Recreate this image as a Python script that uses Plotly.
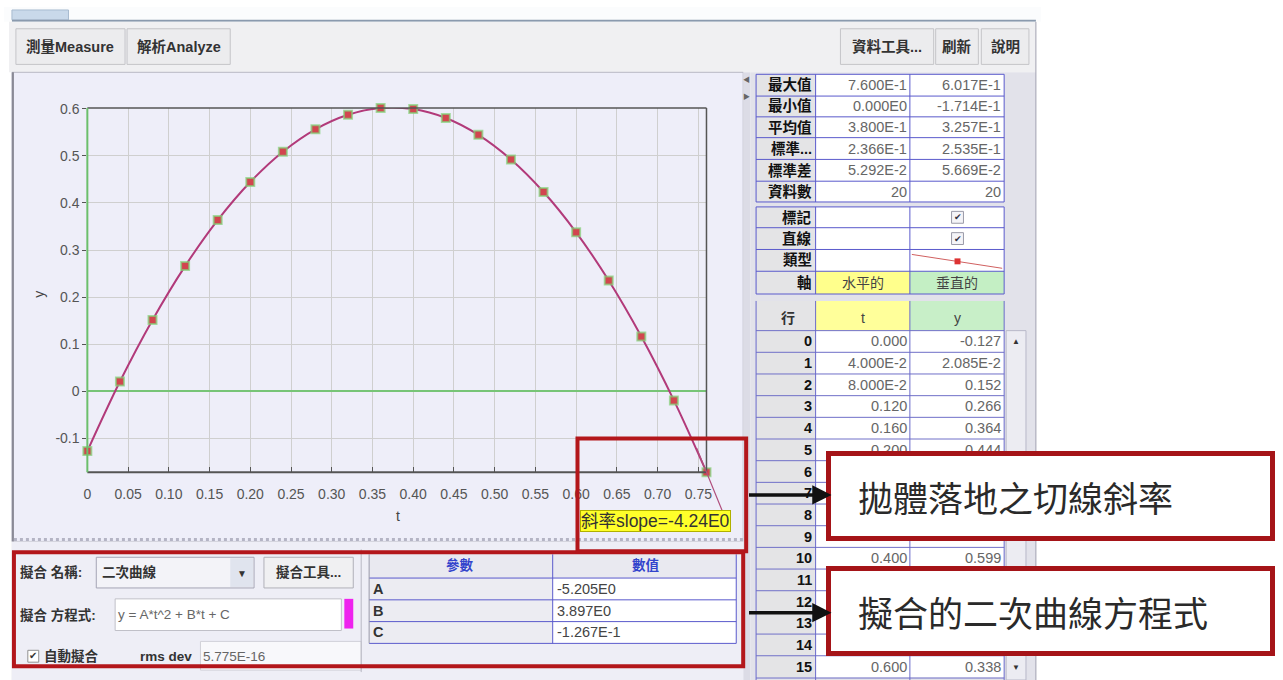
import plotly.graph_objects as go

W, H = 1283, 680

# ---------------- data ----------------
t_values = [0.00, 0.04, 0.08, 0.12, 0.16, 0.20, 0.24, 0.28, 0.32, 0.36,
            0.40, 0.44, 0.48, 0.52, 0.56, 0.60, 0.64, 0.68, 0.72, 0.76]
y_values = [-0.1267, 0.0209, 0.1517, 0.2660, 0.3636, 0.4445, 0.5088, 0.5564, 0.5873, 0.6017,
            0.5993, 0.5803, 0.5446, 0.4923, 0.4233, 0.3377, 0.2354, 0.1165, -0.0191, -0.1714]

x_tick_vals = [0, 0.05, 0.10, 0.15, 0.20, 0.25, 0.30, 0.35, 0.40, 0.45, 0.50, 0.55, 0.60, 0.65, 0.70, 0.75]
x_tick_text = ["0", "0.05", "0.10", "0.15", "0.20", "0.25", "0.30", "0.35", "0.40",
               "0.45", "0.50", "0.55", "0.60", "0.65", "0.70", "0.75"]
y_tick_vals = [-0.1, 0, 0.1, 0.2, 0.3, 0.4, 0.5, 0.6]
y_tick_text = ["-0.1", "0", "0.1", "0.2", "0.3", "0.4", "0.5", "0.6"]

tangent_slope = -4.24
slope_label = "斜率slope=-4.24E0"

stat_labels = ["最大值", "最小值", "平均值", "標準...", "標準差", "資料數"]
stat_t = ["7.600E-1", "0.000E0", "3.800E-1", "2.366E-1", "5.292E-2", "20"]
stat_y = ["6.017E-1", "-1.714E-1", "3.257E-1", "2.535E-1", "5.669E-2", "20"]
prop_labels = ["標記", "直線", "類型", "軸"]
axis_names = ["水平的", "垂直的"]

row_index = [str(i) for i in range(16)]
t_column = ["0.000", "4.000E-2", "8.000E-2", "0.120", "0.160", "0.200", "0.240", "0.280",
            "0.320", "0.360", "0.400", "0.440", "0.480", "0.520", "0.560", "0.600"]
y_column = ["-0.127", "2.085E-2", "0.152", "0.266", "0.364", "0.444", "0.509", "0.556",
            "0.587", "0.602", "0.599", "0.580", "0.545", "0.492", "0.423", "0.338"]

param_names = ["A", "B", "C"]
param_values = ["-5.205E0", "3.897E0", "-1.267E-1"]
param_headers = ["參數", "數值"]

fit_name = "二次曲線"
fit_equation = "y = A*t^2 + B*t + C"
rms_dev = "5.775E-16"

callout_1 = "拋體落地之切線斜率"
callout_2 = "擬合的二次曲線方程式"

# ---------------- helpers ----------------
FONT = "Liberation Sans, Arial, Noto Sans CJK TC, sans-serif"
CJK = "Noto Sans CJK TC, Liberation Sans, sans-serif"


def X(p):
    return p / W


def Y(p):
    return 1 - p / H


shapes = []
annotations = []


def rect(x0, y0, x1, y1, fill=None, line=None, lw=1, layer="above", dash=None):
    d = dict(type="rect", xref="paper", yref="paper", x0=X(x0), x1=X(x1), y0=Y(y1), y1=Y(y0),
             layer=layer, line=dict(width=lw if line else 0, color=line or "rgba(0,0,0,0)"))
    if dash:
        d["line"]["dash"] = dash
    if fill:
        d["fillcolor"] = fill
    shapes.append(d)


def line(x0, y0, x1, y1, color="#888", lw=1, dash=None, layer="above"):
    d = dict(type="line", xref="paper", yref="paper", x0=X(x0), x1=X(x1), y0=Y(y0), y1=Y(y1),
             layer=layer, line=dict(color=color, width=lw))
    if dash:
        d["line"]["dash"] = dash
    shapes.append(d)


def text(x, y, s, size=12, color="#222", xanchor="left", bold=False, family=FONT, **kw):
    if bold:
        s = "<b>" + s + "</b>"
    a = dict(x=X(x), y=Y(y), xref="paper", yref="paper", text=s, showarrow=False,
             xanchor=xanchor, yanchor="middle", font=dict(size=size, color=color, family=family),
             borderpad=0)
    a.update(kw)
    annotations.append(a)


# ---------------- window chrome ----------------
rect(0, 0, 1045, 15, fill="#fbfcfd", layer="below")
rect(8, 3, 65, 13, fill="#c9d9ea", line="#a8bcd0", layer="below")
line(8, 14, 1040, 14, color="#8a9aae", lw=2, layer="below")
rect(5, 15, 1040, 66, fill="#f0f0f2", layer="below")
for (x0, x1, lab) in [(12, 122, "測量Measure"), (124, 228, "解析Analyze"),
                      (843, 937, "資料工具..."), (939, 982, "刷新"), (985, 1033, "說明")]:
    rect(x0, 22, x1, 58, fill="#ececee", line="#c4c4c8")
    text((x0 + x1) / 2, 40, lab, size=14.5, color="#333", xanchor="center", bold=True)

# plot panel
rect(8, 66, 745, 540, fill="#eeeef9", line="#b8b8c4", layer="below")
line(9, 66, 9, 680, color="#8a8a96", lw=2, layer="below")
# splitter
rect(745, 66, 752, 680, fill="#dcdce6", layer="below")
text(748, 73, "◀", size=7, color="#666", xanchor="center")
text(748, 90, "▶", size=7, color="#666", xanchor="center")
# right panel
rect(752, 66, 1040, 680, fill="#e2e2ea", layer="below")
line(1040, 15, 1040, 680, color="#a0a0b0", lw=1, layer="below")
# bottom panel
rect(8, 540, 745, 680, fill="#eeeef6", layer="below")
line(10, 538, 745, 538, color="#b4b4c4", lw=3, dash="dot", layer="below")

# ---------------- plot ----------------
PX0, PX1, PY0, PY1 = 84, 708, 102, 470

fig = go.Figure()
fig.add_trace(go.Scatter(x=t_values, y=y_values, mode="lines",
                         line=dict(color="#b23a7a", width=2, shape="spline", smoothing=1.0),
                         hoverinfo="skip", showlegend=False))
fig.add_trace(go.Scatter(x=t_values, y=y_values, mode="markers", cliponaxis=False,
                         marker=dict(symbol="square", size=8, color="#d2454f",
                                     line=dict(color="rgba(130,210,120,0.7)", width=2)),
                         showlegend=False))

# plot borders
line(PX0, PY0, PX1, PY0, color="#555", lw=1.5)
line(PX1, PY0, PX1, PY1, color="#555", lw=1.5)
line(PX0, PY1, PX1, PY1, color="#555", lw=2)
line(PX0, PY0, PX0, PY1, color="#6cbf6c", lw=2)

text(397, 514, "t", size=14, color="#444", xanchor="center")
text(35, 290, "y", size=14, color="#444", xanchor="center", textangle=-90)

# tangent line at the landing point
t_last, y_last = t_values[-1], y_values[-1]
t_a, t_b = t_last - 0.012, t_last + 0.021
annotations.append(dict(x=t_a, y=y_last + tangent_slope * (t_a - t_last), xref="x", yref="y",
                        ax=t_b, ay=y_last + tangent_slope * (t_b - t_last), axref="x", ayref="y",
                        text="", showarrow=True, arrowhead=0, arrowwidth=1.2,
                        arrowcolor="#b0507e"))

# ---------------- fit panel ----------------
text(15, 571, "擬合 名稱:", size=13.5, color="#333", bold=True)
rect(93, 556, 252, 587, fill="#f3f3f8", line="#a4a4b4")
rect(228, 557, 251, 586, fill="#e0e4ee")
text(98, 571, fit_name, size=13.5, color="#333", bold=True)
text(240, 572, "▼", size=10, color="#333", xanchor="center")
rect(262, 556, 352, 587, fill="#f0f0f2", line="#b0b0b8")
text(307, 571, "擬合工具...", size=13.5, color="#333", xanchor="center", bold=True)

text(15, 614, "擬合 方程式:", size=13.5, color="#333", bold=True)
rect(112, 598, 340, 630, fill="#ffffff", line="#c0c0c8")
text(114, 614, fit_equation, size=13.5, color="#666")
rect(343, 598, 352, 628, fill="#ee22ee")

rect(24, 650, 35, 662, fill="#ffffff", line="#909090")
text(29.5, 655, "✔", size=10, color="#333", xanchor="center")
text(39, 656, "自動擬合", size=13.5, color="#333", bold=True)
text(136, 656, "rms dev", size=13.5, color="#333", bold=True)
rect(198, 641, 360, 670, fill="#f8f8fb", line="#d0d0d8")
text(200, 656, rms_dev, size=13.5, color="#666")
line(360, 548, 360, 672, color="#b8b8c4", lw=1)

# parameter table
TBL = "#5a5acc"
rect(368, 553, 738, 577, fill="#e9e9f0")
text(460, 564, param_headers[0], size=13.5, color="#3344cc", xanchor="center", bold=True)
text(647, 564, param_headers[1], size=13.5, color="#3344cc", xanchor="center", bold=True)
for i, (n, v) in enumerate(zip(param_names, param_values)):
    y0 = 577 + 22 * i
    rect(368, y0, 553, y0 + 22, fill="#ececf2")
    rect(553, y0, 738, y0 + 22, fill="#ffffff")
    text(371, y0 + 11, n, size=14.5, color="#333", bold=True)
    text(556, y0 + 11, v, size=14.5, color="#444")
for yy in [577, 599, 621, 643]:
    line(368, yy, 738, yy, color=TBL, lw=1)
line(553, 553, 553, 643, color=TBL, lw=1)
line(738, 553, 738, 643, color=TBL, lw=1)
line(368, 553, 368, 643, color="#9a9aaa", lw=1)

# ---------------- red highlight boxes ----------------
RED = "#b3161b"
rect(10, 551, 745, 666, line=RED, lw=4)
rect(578, 436, 748, 550, line=RED, lw=4)
text(581, 519, slope_label, size=17.5, color="#333", bgcolor="#ffff2a",
     bordercolor="#b0b000", borderwidth=1)

# ---------------- right panel: statistics ----------------
CX = [758, 818, 913, 1008]
stat_edges = [68, 90, 111, 132, 154, 176, 197]
for i in range(6):
    y0, y1 = stat_edges[i], stat_edges[i + 1]
    rect(CX[0], y0, CX[1], y1, fill="#e4e4e6")
    rect(CX[1], y0, CX[3], y1, fill="#ffffff")
    yc = (y0 + y1) / 2
    text(CX[1] - 3, yc, stat_labels[i], size=14.5, color="#111", xanchor="right", bold=True)
    text(CX[2] - 2, yc, stat_t[i], size=14.5, color="#666", xanchor="right")
    text(CX[3] - 2, yc, stat_y[i], size=14.5, color="#666", xanchor="right")
for yy in stat_edges:
    line(CX[0], yy, CX[3], yy, color=TBL, lw=1)
for xx in CX:
    line(xx, stat_edges[0], xx, stat_edges[-1], color=TBL, lw=1)

prop_edges = [202, 223, 245, 267, 290]
for i in range(4):
    y0, y1 = prop_edges[i], prop_edges[i + 1]
    rect(CX[0], y0, CX[1], y1, fill="#e4e4e6")
    rect(CX[1], y0, CX[3], y1, fill="#ffffff")
    text(CX[1] - 3, (y0 + y1) / 2, prop_labels[i], size=14.5, color="#111", xanchor="right", bold=True)
rect(CX[1], 267, CX[2], 290, fill="#ffff8c")
rect(CX[2], 267, CX[3], 290, fill="#c4efc4")
text((CX[1] + CX[2]) / 2, 278.5, axis_names[0], size=14, color="#444", xanchor="center")
text((CX[2] + CX[3]) / 2, 278.5, axis_names[1], size=14, color="#444", xanchor="center")
for yc in [212.5, 234]:
    rect(955, yc - 6, 967, yc + 6, fill="#f4f4f8", line="#9a9aa8")
    text(961, yc, "✔", size=9, color="#334", xanchor="center")
line(915, 250, 1006, 264, color="#d06060", lw=1)
rect(958, 254, 964, 260, fill="#dd3333")
for yy in prop_edges:
    line(CX[0], yy, CX[3], yy, color=TBL, lw=1)
for xx in CX:
    line(xx, prop_edges[0], xx, prop_edges[-1], color=TBL, lw=1)

# ---------------- right panel: data table ----------------
rect(CX[0], 297, CX[1], 327, fill="#e4e4e6")
rect(CX[1], 297, CX[2], 327, fill="#ffff9a")
rect(CX[2], 297, CX[3], 327, fill="#c8efc8")
text(790, 314, "行", size=14, color="#333", xanchor="center", bold=True)
text((CX[1] + CX[2]) / 2, 314, "t", size=14, color="#444", xanchor="center")
text((CX[2] + CX[3]) / 2, 314, "y", size=14, color="#444", xanchor="center")
RH = 21.9
hidden_rows = {6, 7, 8, 9, 11, 12, 13, 14}   # rows hidden behind the callout boxes
for k in range(16):
    y0 = 327 + RH * k
    rect(CX[0], y0, CX[1], y0 + RH, fill="#e4e4e6")
    rect(CX[1], y0, CX[3], y0 + RH, fill="#ffffff")
    yc = y0 + RH / 2
    text(CX[1] - 3, yc, row_index[k], size=14.5, color="#111", xanchor="right", bold=True)
    if k not in hidden_rows:
        text(CX[2] - 2, yc, t_column[k], size=14.5, color="#666", xanchor="right")
        text(CX[3] - 2, yc, y_column[k], size=14.5, color="#666", xanchor="right")
    line(CX[0], y0, CX[3], y0, color="#7070c8", lw=1)
line(CX[0], 678, CX[3], 678, color="#7070c8", lw=1)
for xx in CX:
    line(xx, 297, xx, 680, color="#6a6acb", lw=1)
rect(1010, 327, 1030, 680, fill="#ececf2", line="#b8b8c8")
text(1020, 338, "▲", size=8, color="#333", xanchor="center")
text(1020, 667, "▼", size=8, color="#333", xanchor="center")

# ---------------- callouts ----------------
for (y0, y1, s) in [(452, 537, callout_1), (568, 653, callout_2)]:
    bw = 5
    annotations.append(dict(x=X((833 + 1277) / 2), y=Y((y0 + y1) / 2), xref="paper", yref="paper",
                            text=" ", showarrow=False, xanchor="center", yanchor="middle",
                            width=1277 - 833 - bw, height=y1 - y0 - bw, borderpad=0,
                            bgcolor="#ffffff", bordercolor="#a51418", borderwidth=bw))
    text(860, (y0 + y1) / 2, s, size=35, color="#2a2a2a", family=CJK)

for yy in [493, 612]:
    annotations.append(dict(x=X(834), y=Y(yy), xref="paper", yref="paper",
                            ax=-84, ay=0, text="", showarrow=True, arrowhead=2,
                            arrowsize=1.1, arrowwidth=3.5, arrowcolor="#111"))

fig.update_layout(
    width=W, height=H, autosize=False,
    margin=dict(l=0, r=0, t=0, b=0),
    paper_bgcolor="#ffffff", plot_bgcolor="#ffffff",
    showlegend=False,
    xaxis=dict(domain=[X(PX0), X(PX1)], range=[0, 0.76], tickvals=x_tick_vals, ticktext=x_tick_text,
               showgrid=True, gridcolor="#cfcfcf", gridwidth=1, zeroline=False,
               showline=False, ticks="inside", ticklen=5, tickcolor="#555",
               ticklabelstandoff=12, tickfont=dict(size=14, color="#555", family=FONT)),
    yaxis=dict(domain=[Y(PY1), Y(PY0)], range=[-0.1714, 0.6017], tickvals=y_tick_vals,
               ticktext=y_tick_text, showgrid=True, gridcolor="#cfcfcf", gridwidth=1,
               zeroline=True, zerolinecolor="#77c477", zerolinewidth=2, showline=False,
               ticks="outside", ticklen=4, tickcolor="#555",
               tickfont=dict(size=14, color="#555", family=FONT)),
    shapes=shapes,
    annotations=annotations,
)

fig.write_html("out.html", config={"displayModeBar": False},
               post_script="document.body.style.margin='0';document.body.style.overflow='hidden';")
